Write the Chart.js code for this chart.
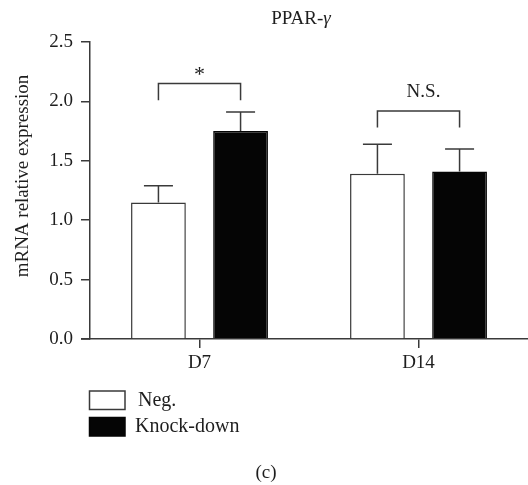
<!DOCTYPE html>
<html>
<head>
<meta charset="utf-8">
<script src="https://cdn.jsdelivr.net/npm/chart.js@4.4.1/dist/chart.umd.min.js"></script>
<style>
  html, body { margin: 0; padding: 0; background: #fff; }
  #wrap { width: 528px; height: 485px; position: relative; }
</style>
</head>
<body>
<div id="wrap"><canvas id="chart"></canvas></div>
<script>
// values
const categories = ['D7', 'D14'];
const seriesNames = ['Neg.', 'Knock-down'];
const negMeans = [1.15, 1.39];
const negUpper = [1.29, 1.64];
const kdMeans = [1.75, 1.41];
const kdUpper = [1.91, 1.60];
const yTicks = [0.0, 0.5, 1.0, 1.5, 2.0, 2.5];
const bracketLabels = ['*', 'N.S.'];
const bracketTop = [2.15, 1.92];
const bracketLegEnd = [2.01, 1.78];

const FONT = '"Liberation Serif", "Times New Roman", serif';
const INK = '#3a3a3a';
const TEXT = '#1e1e1e';

// error bars (upper only, with caps)
const errorBars = {
  id: 'errorBars',
  afterDatasetsDraw(chart) {
    const ctx = chart.ctx, y = chart.scales.y;
    const uppers = [negUpper, kdUpper];
    ctx.save();
    ctx.strokeStyle = INK;
    ctx.lineWidth = 1.5;
    chart.data.datasets.forEach((ds, i) => {
      chart.getDatasetMeta(i).data.forEach((bar, j) => {
        const top = y.getPixelForValue(uppers[i][j]);
        ctx.beginPath();
        ctx.moveTo(bar.x, bar.y);
        ctx.lineTo(bar.x, top);
        ctx.moveTo(bar.x - 14.5, top);
        ctx.lineTo(bar.x + 14.5, top);
        ctx.stroke();
      });
    });
    ctx.restore();
  }
};

// significance brackets
const brackets = {
  id: 'brackets',
  afterDatasetsDraw(chart) {
    const ctx = chart.ctx, y = chart.scales.y;
    const m0 = chart.getDatasetMeta(0).data, m1 = chart.getDatasetMeta(1).data;
    const textLift = [3, 14];
    const textSize = [22, 19];
    ctx.save();
    ctx.strokeStyle = INK;
    ctx.lineWidth = 1.5;
    ctx.fillStyle = TEXT;
    ctx.textAlign = 'center';
    ctx.textBaseline = 'alphabetic';
    bracketLabels.forEach((lab, j) => {
      const x0 = m0[j].x, x1 = m1[j].x;
      const yt = y.getPixelForValue(bracketTop[j]);
      const yl = y.getPixelForValue(bracketLegEnd[j]);
      ctx.beginPath();
      ctx.moveTo(x0, yl);
      ctx.lineTo(x0, yt);
      ctx.lineTo(x1, yt);
      ctx.lineTo(x1, yl);
      ctx.stroke();
      ctx.font = textSize[j] + 'px ' + FONT;
      ctx.fillText(lab, (x0 + x1) / 2 + (j === 1 ? 5 : 0), yt - textLift[j]);
    });
    ctx.restore();
  }
};

// title, y label, legend and panel letter
const decorations = {
  id: 'decorations',
  afterDraw(chart) {
    const ctx = chart.ctx;
    ctx.save();
    ctx.fillStyle = TEXT;

    // x axis line reaches left to the y tick marks
    ctx.strokeStyle = INK;
    ctx.lineWidth = 1.5;
    ctx.beginPath();
    ctx.moveTo(81, chart.chartArea.bottom);
    ctx.lineTo(chart.chartArea.left, chart.chartArea.bottom);
    ctx.stroke();

    // title with italic gamma
    ctx.textBaseline = 'alphabetic';
    ctx.textAlign = 'left';
    ctx.font = '19px ' + FONT;
    const t1 = 'PPAR-';
    const w1 = ctx.measureText(t1).width;
    ctx.font = 'italic 19px ' + FONT;
    const w2 = ctx.measureText('γ').width;
    let tx = 301 - (w1 + w2) / 2;
    ctx.font = '19px ' + FONT;
    ctx.fillText(t1, tx, 24);
    ctx.font = 'italic 19px ' + FONT;
    ctx.fillText('γ', tx + w1, 24);

    // y axis title
    ctx.save();
    ctx.translate(23, 176);
    ctx.rotate(-Math.PI / 2);
    ctx.font = '19px ' + FONT;
    ctx.textAlign = 'center';
    ctx.textBaseline = 'middle';
    ctx.fillText('mRNA relative expression', 0, 0);
    ctx.restore();

    // legend
    ctx.font = '20px ' + FONT;
    ctx.textAlign = 'left';
    ctx.textBaseline = 'middle';
    chart.data.datasets.forEach((ds, i) => {
      const by = 391 + i * 26.5;
      ctx.fillStyle = ds.backgroundColor;
      ctx.fillRect(89.5, by, 35.5, 18.5);
      ctx.strokeStyle = ds.borderColor;
      ctx.lineWidth = 1.5;
      ctx.strokeRect(89.5, by, 35.5, 18.5);
      ctx.fillStyle = TEXT;
      ctx.fillText(ds.label, i === 0 ? 138 : 135, by + 9.5);
    });

    // panel letter
    ctx.font = '19px ' + FONT;
    ctx.textAlign = 'center';
    ctx.fillText('(c)', 266, 473);
    ctx.restore();
  }
};

new Chart(document.getElementById('chart'), {
  type: 'bar',
  data: {
    labels: categories,
    datasets: [
      {
        label: seriesNames[0],
        data: negMeans,
        backgroundColor: '#ffffff',
        borderColor: INK,
        borderWidth: 1.5
      },
      {
        label: seriesNames[1],
        data: kdMeans,
        backgroundColor: '#050505',
        borderColor: '#050505',
        borderWidth: 1.5
      }
    ]
  },
  options: {
    responsive: true,
    maintainAspectRatio: false,
    animation: false,
    categoryPercentage: 0.75,
    barPercentage: 0.667,
    layout: { padding: { top: 42, right: 0, bottom: 116, left: 0 } },
    plugins: {
      legend: { display: false },
      tooltip: { enabled: false },
      title: { display: false }
    },
    scales: {
      x: {
        offset: true,
        afterFit: (s) => { s.height = 30; },
        grid: {
          display: true,
          offset: false,
          drawOnChartArea: false,
          drawTicks: true,
          tickLength: 9,
          color: INK,
          lineWidth: 1.5
        },
        border: { display: true, color: INK, width: 1.5 },
        ticks: {
          color: TEXT,
          padding: 4,
          font: { family: FONT, size: 19 }
        }
      },
      y: {
        min: 0,
        max: 2.5,
        afterFit: (s) => { s.width = 90; },
        afterBuildTicks: (s) => { s.ticks = yTicks.map(v => ({ value: v })); },
        grid: {
          display: true,
          drawOnChartArea: false,
          drawTicks: true,
          tickLength: 9,
          color: INK,
          lineWidth: 1.5
        },
        border: { display: true, color: INK, width: 1.5 },
        ticks: {
          color: TEXT,
          padding: 8,
          font: { family: FONT, size: 19 },
          callback: (v) => Number(v).toFixed(1)
        }
      }
    }
  },
  plugins: [errorBars, brackets, decorations]
});
</script>
</body>
</html>
